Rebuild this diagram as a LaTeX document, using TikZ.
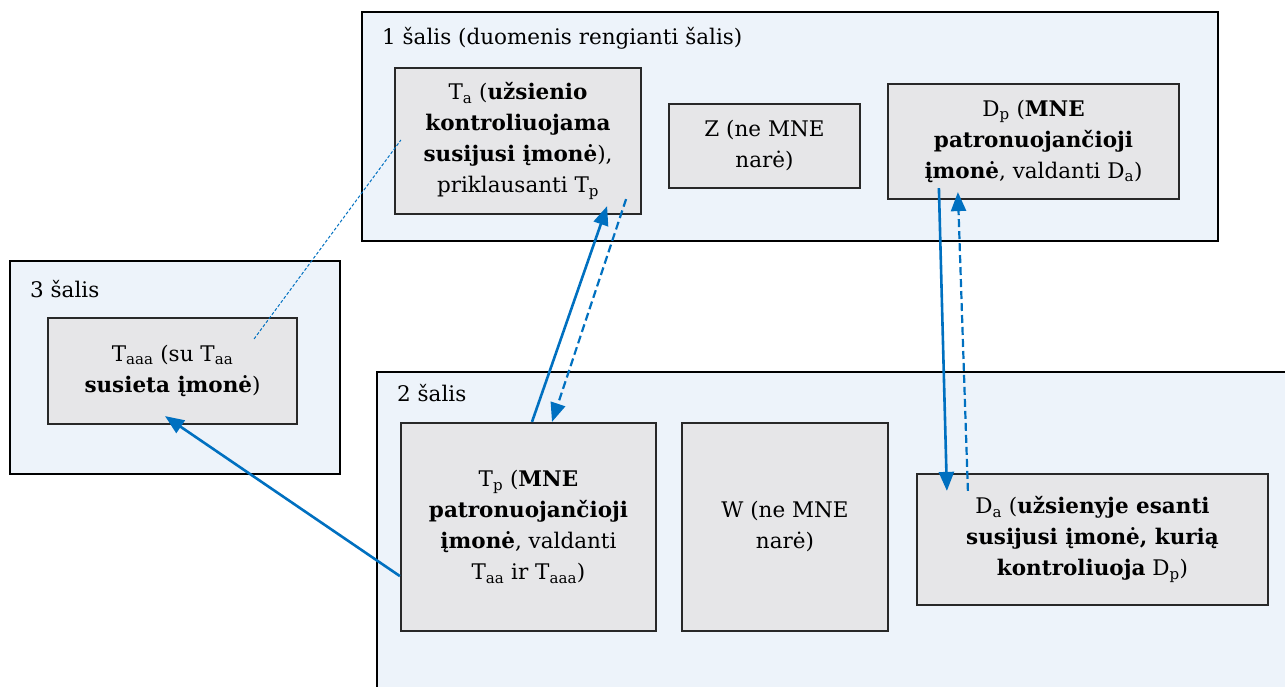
\documentclass[tikz,border=0pt]{standalone}
\usepackage{fontspec}
\setmainfont{DejaVu Serif}
\usetikzlibrary{calc}
\usetikzlibrary{arrows.meta}
\definecolor{arrowblue}{RGB}{0,112,192}
\definecolor{landfill}{RGB}{237,243,250}
\definecolor{firmfill}{RGB}{230,230,232}
\definecolor{firmline}{RGB}{40,40,40}
\newcommand{\firmfont}{\fontsize{21.5}{31}\selectfont}
\tikzset{land/.style={draw=black, line width=2.8pt, fill=landfill, inner sep=0pt},
 firm/.style={draw=firmline, line width=2.2pt, fill=firmfill, align=center,
  inner sep=0pt, font=\firmfont},
 landlabel/.style={anchor=west, inner sep=0pt, font=\firmfont},
 own/.style={draw=arrowblue, line width=2.6pt, -{Triangle[length=19pt,width=15pt]}},
 ctrl/.style={own, line width=2.2pt, dash pattern=on 8pt off 4pt},
 link/.style={draw=arrowblue, line width=1pt, dash pattern=on 3pt off 2pt},
 }

\begin{document}
\begin{tikzpicture}[x=1pt,y=-1pt]
        \clip (0,0) rectangle (1285,687);
        % countries
        \node[land, minimum width=856pt, minimum height=229pt] (land1) at (790,126.5) {};
        \node[land, minimum width=330pt, minimum height=213pt] (land3) at (175,367.5) {};
        \node[land, minimum width=918pt, minimum height=325pt] (land2) at (836,534.5) {};
        \node[landlabel] (lbl1) at (382,38) {1 šalis (duomenis rengianti šalis)};
        \node[landlabel] (lbl3) at (30,289) {3 šalis};
        \node[landlabel] (lbl2) at (397,393) {2 šalis};
        % firms
        \node[firm, minimum width=246pt, minimum height=146pt] (Ta) at (518,141)
            {T\textsubscript{a} (\textbf{užsienio}\\\textbf{kontroliuojama}\\\textbf{susijusi įmonė}),\\priklausanti T\textsubscript{p}};
        \node[firm, minimum width=191pt, minimum height=84pt] (Z) at (764.5,146)
            {Z (ne MNE\\narė)};
        \node[firm, minimum width=291pt, minimum height=115pt] (Dp) at (1033.5,141.5)
            {D\textsubscript{p} (\textbf{MNE}\\\textbf{patronuojančioji}\\\textbf{įmonė}, valdanti D\textsubscript{a})};
        \node[firm, minimum width=249pt, minimum height=106pt] (Taaa) at (172.5,371)
            {T\textsubscript{aaa} (su T\textsubscript{aa}\\\textbf{susieta įmonė})};
        \node[firm, minimum width=255pt, minimum height=208pt] (Tp) at (528.5,527)
            {T\textsubscript{p} (\textbf{MNE}\\\textbf{patronuojančioji}\\\textbf{įmonė}, valdanti\\T\textsubscript{aa} ir T\textsubscript{aaa})};
        \node[firm, minimum width=206pt, minimum height=208pt] (W) at (785,527)
            {W (ne MNE\\narė)};
        \node[firm, minimum width=351pt, minimum height=131pt] (Da) at (1092.5,539.5)
            {D\textsubscript{a} (\textbf{užsienyje esanti}\\\textbf{susijusi įmonė, kurią}\\\textbf{kontroliuoja} D\textsubscript{p})};
        % links
        \draw[link] ($(Taaa.north east)+(-44,22)$) -- ($(Ta.west)+(7,-1)$);
        \draw[own] ($(Tp.north)+(3.5,0)$) -- ($(Ta.south east)+(-35,-9)$);
        \draw[ctrl] ($(Ta.south east)+(-16,-16)$) -- ($(Tp.north)+(23.5,0)$);
        \draw[own] ($(Dp.south west)+(52,-12)$) -- ($(Da.north west)+(31,18)$);
        \draw[ctrl] ($(Da.north west)+(52,18)$) -- ($(Dp.south west)+(71,-8)$);
        \draw[own] ($(Tp.south west)+(0,-56)$) -- ($(Taaa.south)+(-7.5,-9)$);
    \end{tikzpicture}
\end{document}
